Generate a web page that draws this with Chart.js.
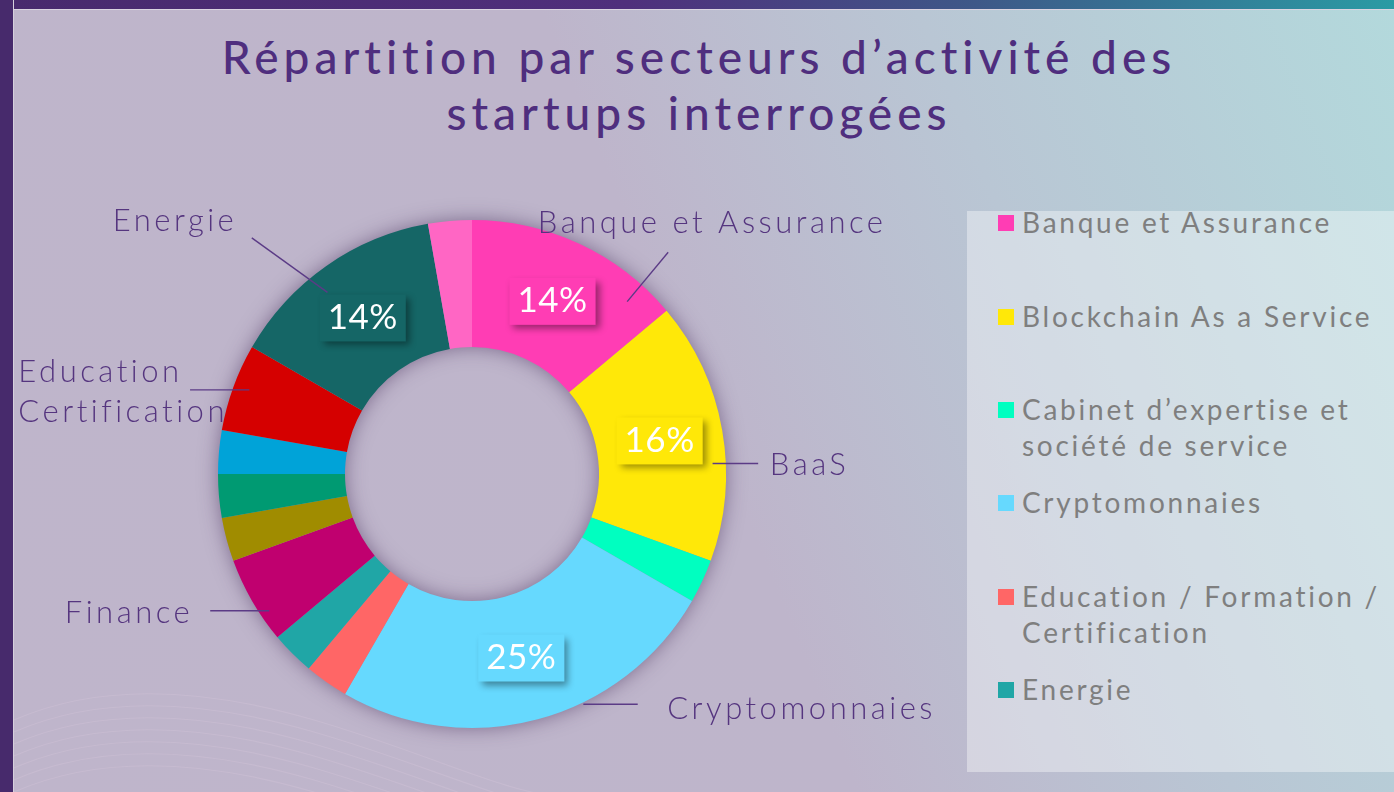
<!DOCTYPE html>
<html lang="fr">
<head>
<meta charset="utf-8">
<script src="https://cdn.jsdelivr.net/npm/chart.js@4.4.0/dist/chart.umd.min.js"></script>
<style>
html,body{margin:0;padding:0;}
body{width:1394px;height:792px;overflow:hidden;position:relative;font-family:Lato,sans-serif;
  background:linear-gradient(68deg,#bfb5cb 0%,#beb5cb 50%,#b9c6d4 72%,#b3d9dc 100%);}
#topband{position:absolute;left:0;top:0;width:1394px;height:9px;
  background:linear-gradient(90deg,#482a6d 0%,#4f2f7c 45%,#3e5888 70%,#2a9ba4 100%);border-bottom:1px solid #d9d3e0;}
#leftbar{position:absolute;left:0;top:0;width:13px;height:792px;background:#472a6c;border-right:1px solid #d6d0dc;}
#waves{position:absolute;left:14px;top:600px;}
#title{position:absolute;left:2px;top:29px;width:1394px;text-align:center;color:#4f2e7e;
  font-weight:500;font-size:46px;line-height:56px;letter-spacing:5px;}
#legendbox{position:absolute;left:967px;top:211px;width:427px;height:561px;background:rgba(255,255,255,0.38);}
.li{position:absolute;left:998px;width:396px;}
.li .mk{position:absolute;left:0;top:11px;width:16px;height:16px;}
.li .tx{margin-left:24px;width:370px;color:#7f7f7f;font-weight:400;font-size:28px;line-height:36px;letter-spacing:2.75px;}
#wrap{position:absolute;left:0;top:0;width:1394px;height:792px;}
</style>
</head>
<body>
<div id="topband"></div>
<div id="leftbar"></div>
<svg id="waves" width="560" height="192" viewBox="0 0 560 192">
  <g fill="none" stroke="rgba(255,228,245,0.12)" stroke-width="1.2">
    <path d="M0 120 C 80 85, 180 85, 300 120 S 480 190, 560 200"/>
    <path d="M0 132 C 80 97, 180 97, 300 132 S 480 200, 560 212"/>
    <path d="M0 144 C 80 109, 180 109, 300 144 S 480 212, 560 224"/>
    <path d="M0 156 C 80 121, 180 121, 300 156 S 480 224, 560 236"/>
    <path d="M0 168 C 80 133, 180 133, 300 168 S 480 236, 560 248"/>
    <path d="M0 180 C 80 145, 180 145, 300 180 S 480 248, 560 260"/>
    <path d="M0 192 C 80 157, 180 157, 300 192 S 480 260, 560 272"/>
  </g>
</svg>
<div id="title">Répartition par secteurs d’activité des<br>startups interrogées</div>
<div id="legendbox"></div>
<div id="legend"></div>
<div id="wrap"><canvas id="c" width="1394" height="792"></canvas></div>
<script>
// ---- data ----
const categories = [
  'Banque et Assurance',
  'Blockchain As a Service',
  'Cabinet d’expertise et société de service',
  'Cryptomonnaies',
  'Education / Formation / Certification',
  'Energie',
  'Finance',
  'Autre secteur 1',
  'Autre secteur 2',
  'Autre secteur 3',
  'Education Certification',
  'Energie (2)',
  'Autre secteur 4'
];
const sliceValues = [5, 6, 1, 9, 1, 1, 2, 1, 1, 1, 2, 5, 1];
const sliceColors = ['#ff3db4','#ffe808','#00ffc0','#66d9fe','#ff6666','#20a6a6','#c0006f','#a08c00','#009a72','#00a3d8','#d50000','#156666','#ff66c4'];
const pctLabels = ['14%','16%','','25%','','','','','','','','14%',''];
const legendCount = 6;
const outerLabelSlices = [0, 1, 3, 6, 10, 11];
const outerLabelTexts = [['Banque et Assurance'], ['BaaS'], ['Cryptomonnaies'], ['Finance'], ['Education','Certification'], ['Energie']];

// ---- layout of callouts (fractions along slice / radius, offsets) ----
const calloutLayout = [
  {t:0.84, r:0.913, dx:41,    dy:-49.4, tx:-130.3, ty:-19,  align:'left'},
  {t:0.625,r:0.948, dx:45.6,  dy:0,     tx:11.7,   ty:12,   align:'left'},
  {t:0.38, r:1.007, dx:54.4,  dy:0,     tx:29.6,   ty:14.7, align:'left'},
  {t:0.3,  r:0.963, dx:-59,   dy:0,     tx:-17,    ty:12,   align:'right'},
  {t:0.535,r:0.937, dx:-59.3, dy:0,     tx:-171.7, ty:-8.3, align:'left', lh:40},
  {t:0.43, r:0.914, dx:-75.7, dy:-54.4, tx:-14.5,  ty:-7.2, align:'right'}
];

// ---- HTML legend ----
const legendEl = document.getElementById('legend');
for (let i = 0; i < legendCount; i++) {
  const d = document.createElement('div');
  d.className = 'li';
  d.style.top = (204.3 + i * 93.3) + 'px';
  d.innerHTML = '<div class="mk" style="background:' + sliceColors[i] + '"></div><div class="tx"></div>';
  d.querySelector('.tx').textContent = categories[i];
  legendEl.appendChild(d);
}

const ringShadow = {
  id: 'ringShadow',
  beforeDatasetsDraw(chart) {
    const arc = chart.getDatasetMeta(0).data[0];
    if (!arc) return;
    const {x, y, outerRadius, innerRadius} = arc.getProps(['x','y','outerRadius','innerRadius'], true);
    const ctx = chart.ctx;
    ctx.save();
    ctx.shadowColor = 'rgba(60,35,80,0.55)';
    ctx.shadowBlur = 20;
    ctx.fillStyle = '#9a8fae';
    ctx.beginPath();
    ctx.arc(x, y, outerRadius - 1, 0, Math.PI * 2);
    ctx.arc(x, y, innerRadius + 1, 0, Math.PI * 2, true);
    ctx.closePath();
    ctx.fill();
    ctx.restore();
  }
};

const annotations = {
  id: 'annotations',
  afterDatasetsDraw(chart) {
    const ctx = chart.ctx;
    const meta = chart.getDatasetMeta(0);
    // percentage boxes
    ctx.save();
    ctx.font = '400 35px Lato';
    ctx.letterSpacing = '0.5px';
    meta.data.forEach((arc, i) => {
      const txt = pctLabels[i];
      if (!txt) return;
      const p = arc.getCenterPoint();
      const w = ctx.measureText(txt).width + 16;
      const h = 47;
      ctx.save();
      ctx.shadowColor = 'rgba(0,0,0,0.4)';
      ctx.shadowBlur = 7;
      ctx.shadowOffsetX = 4;
      ctx.shadowOffsetY = 4;
      ctx.fillStyle = sliceColors[i];
      ctx.fillRect(p.x - w / 2, p.y - h / 2, w, h);
      ctx.restore();
      ctx.fillStyle = '#ffffff';
      ctx.textAlign = 'center';
      ctx.textBaseline = 'alphabetic';
      ctx.fillText(txt, p.x, p.y + 11);
    });
    ctx.restore();
    // callouts
    ctx.save();
    ctx.strokeStyle = '#5b3b86';
    ctx.lineWidth = 1.4;
    ctx.fillStyle = '#55357f';
    ctx.font = '300 31px Lato';
    ctx.letterSpacing = '3.5px';
    ctx.textBaseline = 'alphabetic';
    outerLabelSlices.forEach((si, k) => {
      const L = calloutLayout[k];
      const arc = meta.data[si];
      const {x, y, startAngle, endAngle, outerRadius} = arc.getProps(['x','y','startAngle','endAngle','outerRadius'], true);
      const a = startAngle + L.t * (endAngle - startAngle);
      const sx = x + Math.cos(a) * outerRadius * L.r;
      const sy = y + Math.sin(a) * outerRadius * L.r;
      const ex = sx + L.dx, ey = sy + L.dy;
      ctx.beginPath();
      ctx.moveTo(sx, sy);
      ctx.lineTo(ex, ey);
      ctx.stroke();
      ctx.textAlign = L.align;
      outerLabelTexts[k].forEach((line, j) => {
        ctx.fillText(line, ex + L.tx, ey + L.ty + j * (L.lh || 0));
      });
    });
    ctx.restore();
  }
};

new Chart(document.getElementById('c'), {
  type: 'doughnut',
  data: {
    labels: categories,
    datasets: [{
      data: sliceValues,
      backgroundColor: sliceColors,
      borderWidth: 0,
      hoverOffset: 0
    }]
  },
  options: {
    responsive: false,
    animation: false,
    devicePixelRatio: 1,
    cutout: '50%',
    layout: {padding: {left: 218, top: 220, right: 668, bottom: 64}},
    plugins: {legend: {display: false}, tooltip: {enabled: false}, title: {display: false}}
  },
  plugins: [ringShadow, annotations]
});
</script>
</body>
</html>
